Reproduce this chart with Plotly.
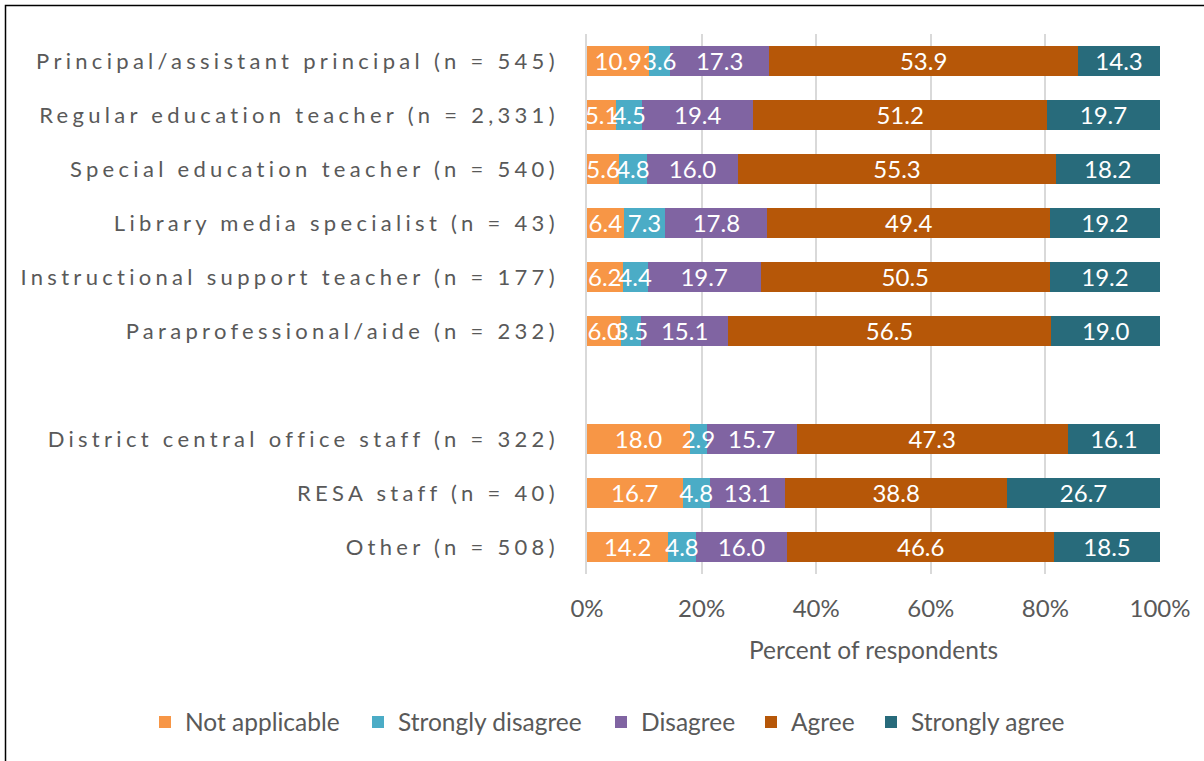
import plotly.graph_objects as go

# Respondent groups (two blocks: school-level staff, then district/other staff)
categories = [
    "Principal/assistant principal (n = 545)",
    "Regular education teacher (n = 2,331)",
    "Special education teacher (n = 540)",
    "Library media specialist (n = 43)",
    "Instructional support teacher (n = 177)",
    "Paraprofessional/aide (n = 232)",
    "District central office staff (n = 322)",
    "RESA staff (n = 40)",
    "Other (n = 508)",
]
block = ["school"] * 6 + ["district"] * 3

# Percent of respondents per response option
not_applicable = [10.9, 5.1, 5.6, 6.4, 6.2, 6.0, 18.0, 16.7, 14.2]
strongly_disagree = [3.6, 4.5, 4.8, 7.3, 4.4, 3.5, 2.9, 4.8, 4.8]
disagree = [17.3, 19.4, 16.0, 17.8, 19.7, 15.1, 15.7, 13.1, 16.0]
agree = [53.9, 51.2, 55.3, 49.4, 50.5, 56.5, 47.3, 38.8, 46.6]
strongly_agree = [14.3, 19.7, 18.2, 19.2, 19.2, 19.0, 16.1, 26.7, 18.5]

x_tick_values = [0, 20, 40, 60, 80, 100]
x_tick_labels = ["0%", "20%", "40%", "60%", "80%", "100%"]

series = [
    ("Not applicable", not_applicable, "#F79646"),
    ("Strongly disagree", strongly_disagree, "#4BACC6"),
    ("Disagree", disagree, "#8064A2"),
    ("Agree", agree, "#B65708"),
    ("Strongly agree", strongly_agree, "#286B7B"),
]

# Row positions: leave one empty slot between the two blocks
positions = []
gap = 0
for i, b in enumerate(block):
    if i > 0 and b != block[i - 1]:
        gap += 1
    positions.append(i + gap)
n_slots = positions[-1] + 1

FONT = "Lato, 'Open Sans', sans-serif"
GREY = "#595959"

W, H = 1204, 761
L, R, T, B = 587, 44, 34, 187
pw, ph = W - L - R, H - T - B
slot_px = ph / n_slots


def px_to_paper(x, y):
    return (x - L) / pw, (H - B - y) / ph


# Each row is scaled to 100% (like a 100% stacked bar)
row_totals = [sum(s[1][i] for s in series) for i in range(len(categories))]

# One legend box per response option, spread along the bottom
legend_left_px = [145, 358, 601, 751, 871]
legend_ids = ["legend"] + [f"legend{k}" for k in range(2, len(series) + 1)]

fig = go.Figure()
for (name, vals, color), lid in zip(series, legend_ids):
    fig.add_trace(go.Bar(
        y=positions,
        x=[v / t * 100 for v, t in zip(vals, row_totals)],
        name=name,
        orientation="h",
        marker=dict(color=color, line=dict(width=0)),
        width=0.57,
        customdata=vals,
        hovertemplate="%{customdata:.1f}<extra>" + name + "</extra>",
        legend=lid,
    ))

# Value labels on top of all segments, centred on each segment
lab_x, lab_y, lab_t = [], [], []
for i, pos in enumerate(positions):
    cum = 0.0
    for name, vals, color in series:
        v = vals[i]
        lab_x.append((cum + v / 2) / row_totals[i] * 100)
        lab_y.append(pos)
        lab_t.append(f"{v:.1f}")
        cum += v
fig.add_trace(go.Scatter(
    x=lab_x, y=lab_y, text=lab_t,
    yaxis="y2",
    mode="text",
    textposition="middle center",
    textfont=dict(family=FONT, size=24, color="white"),
    showlegend=False,
    hoverinfo="skip",
    cliponaxis=False,
))

bx0, by0 = px_to_paper(5.5, 5.5)
bx1, by1 = px_to_paper(1215, 775)

# label layer sits a few pixels lower so the digits look centred in the bars
label_drop = 3.0 / slot_px

legend_layouts = {}
for lid, left in zip(legend_ids, legend_left_px):
    lx, ly = px_to_paper(left, 722)
    legend_layouts[lid] = dict(
        orientation="h",
        x=lx, xanchor="left",
        y=ly, yanchor="middle",
        font=dict(family=FONT, size=24.5, color=GREY),
        bgcolor="rgba(0,0,0,0)",
        itemclick=False,
        itemdoubleclick=False,
    )

fig.update_layout(
    width=W, height=H,
    margin=dict(l=L, r=R, t=T, b=B, autoexpand=False),
    barmode="stack",
    bargap=0,
    plot_bgcolor="white",
    paper_bgcolor="white",
    font=dict(family=FONT, color=GREY, size=24),
    xaxis=dict(
        range=[0, 100],
        tickmode="array",
        tickvals=x_tick_values,
        ticktext=x_tick_labels,
        showgrid=True,
        gridcolor="#D9D9D9",
        gridwidth=1.5,
        zeroline=False,
        showline=False,
        ticks="",
        ticklabelstandoff=18,
        tickfont=dict(family=FONT, size=24, color=GREY),
        title=dict(text="Percent of respondents", standoff=20,
                   font=dict(family=FONT, size=24.5, color=GREY)),
        fixedrange=True,
    ),
    yaxis=dict(
        range=[n_slots - 0.5, -0.5],
        tickmode="array",
        tickvals=positions,
        ticktext=categories,
        showgrid=False,
        zeroline=False,
        showline=True,
        linecolor="#D9D9D9",
        linewidth=1.5,
        ticks="",
        ticklabelstandoff=22,
        tickfont=dict(family=FONT, size=22, color=GREY),
        fixedrange=True,
    ),
    yaxis2=dict(
        overlaying="y",
        range=[n_slots - 0.5 - label_drop, -0.5 - label_drop],
        visible=False,
        fixedrange=True,
    ),
    shapes=[dict(
        type="rect", xref="paper", yref="paper",
        x0=bx0, x1=bx1, y0=by1, y1=by0,
        line=dict(color="black", width=1.5),
        fillcolor="rgba(0,0,0,0)",
        layer="above",
    )],
    showlegend=True,
    **legend_layouts,
)

# Widen the letter spacing of the group labels on the left
letter_spacing = """
document.querySelectorAll('.ytick text').forEach(function (t) {
  t.style.letterSpacing = '4.3px';
});
"""

fig.write_html("out.html", config={"displayModeBar": False}, post_script=letter_spacing)
